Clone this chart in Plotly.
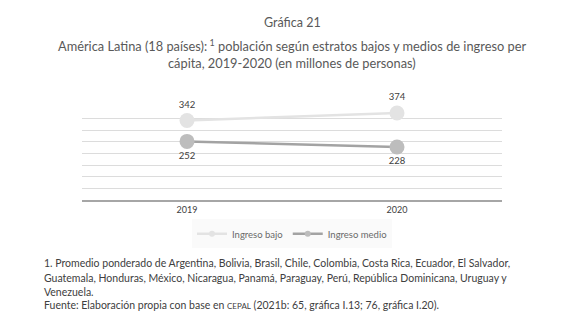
import plotly.graph_objects as go

years = ["2019", "2020"]
ingreso_bajo = [342, 374]
ingreso_medio = [252, 228]
series_names = ["Ingreso bajo", "Ingreso medio"]

FONT = "Lato"
W, H = 580, 333
ML, MR, MT, MB = 82, 78, 106.5, 133
PH = H - MT - MB

def py(pix):
    return (H - MB - pix) / PH

colors_line = ["#e3e3e3", "#a3a3a3"]
colors_marker = ["#e3e3e3", "#bdbdbd"]

fig = go.Figure()
for i, (vals, pos) in enumerate([(ingreso_bajo, "top center"), (ingreso_medio, "bottom center")]):
    fig.add_trace(go.Scatter(
        x=years, y=vals, name=series_names[i], mode="lines+markers+text", showlegend=False,
        line=dict(color=colors_line[i], width=2.5),
        marker=dict(color=colors_marker[i], size=15),
        text=[str(v) for v in vals], textposition=pos,
        textfont=dict(family=FONT, size=9.5, color="#404040"), cliponaxis=False,
    ))
# legend entries with small symbols
for i in range(2):
    fig.add_trace(go.Scatter(
        x=[None], y=[None], name=series_names[i], mode="lines+markers",
        line=dict(color=colors_line[i], width=2.5),
        marker=dict(color=colors_marker[i], size=6),
    ))

title_color = "#595959"
annots = [
    dict(text="Gráfica 21", y=py(22), size=12.5, color=title_color, x=0.5, xanchor="center"),
    dict(text="América Latina (18 países):<sup> 1</sup> población según estratos bajos y medios de ingreso per",
         y=py(45), size=12.8, color=title_color, x=0.5, xanchor="center"),
    dict(text="cápita, 2019-2020 (en millones de personas)", y=py(62), size=12.8, color=title_color,
         x=0.5, xanchor="center"),
]
foot_color = "#404040"
foot_x = (42 - ML) / (W - ML - MR)
foot_lines = [
    ("1. Promedio ponderado de Argentina, Bolivia, Brasil, Chile, Colombia, Costa Rica, Ecuador, El Salvador,", 263),
    ("Guatemala, Honduras, México, Nicaragua, Panamá, Paraguay, Perú, República Dominicana, Uruguay y", 278),
    ("Venezuela.", 292),
    ("Fuente: Elaboración propia con base en <span style='font-size:8px'>CEPAL</span> (2021b: 65, gráfica I.13; 76, gráfica I.20).", 306),
]
for t, yy in foot_lines:
    annots.append(dict(text=t, y=py(yy), size=10.5, color=foot_color, x=foot_x, xanchor="left"))

fig.update_layout(
    width=W, height=H,
    margin=dict(l=ML, r=MR, t=MT, b=MB),
    paper_bgcolor="white", plot_bgcolor="white",
    font=dict(family=FONT, color="#404040"),
    showlegend=True,
    legend=dict(orientation="h", x=0.5, xanchor="center", y=py(234), yanchor="middle",
                bgcolor="#fafafa", font=dict(family=FONT, size=9.5, color="#6a6a6a"),
                itemwidth=30, tracegroupgap=0),
    xaxis=dict(type="category", range=[-0.5, 1.5], showgrid=False, showline=True,
               linecolor="#a6a6a6", linewidth=1.5,
               ticks="", tickfont=dict(family=FONT, size=9, color="#404040"), fixedrange=True),
    yaxis=dict(range=[0, 400], dtick=50, showgrid=True, gridcolor="#dcdcdc", gridwidth=1,
               showticklabels=False, zeroline=False, showline=False, fixedrange=True),
    annotations=[dict(text=a["text"], x=a["x"], y=a["y"], xref="paper", yref="paper",
                      xanchor=a["xanchor"], yanchor="middle", showarrow=False,
                      font=dict(family=FONT, size=a["size"], color=a["color"])) for a in annots],
)

fig.write_html("out.html")
